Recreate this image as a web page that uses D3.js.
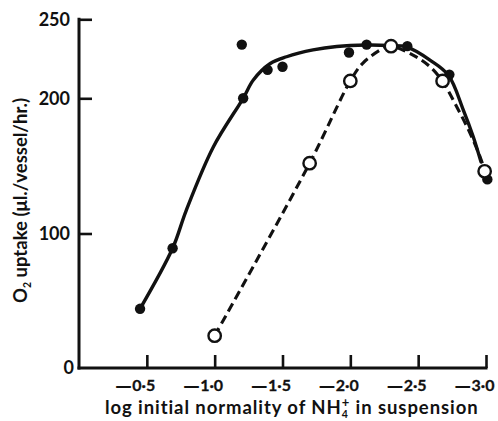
<!DOCTYPE html>
<html>
<head>
<meta charset="utf-8">
<script src="https://cdn.jsdelivr.net/npm/d3@7"></script>
<style>
  html, body { margin: 0; padding: 0; background: #fff; }
  svg { display: block; }
  text { font-family: Lato, "Open Sans", sans-serif; font-weight: 700; fill: #111; }
</style>
</head>
<body>
<svg id="chart" width="498" height="421"></svg>
<script>
// ---- data ----
const xTicks = [-0.5, -1.0, -1.5, -2.0, -2.5, -3.0];
const xTickLabels = ["\u20140\u00b75", "\u20141\u00b70", "\u20141\u00b75", "\u20142\u00b70", "\u20142\u00b75", "\u20143\u00b70"];
const yTicks = [0, 100, 200, 250];
const yTickLabels = ["0", "100", "200", "250"];

// filled circles (solid curve) observations
const filledX = [-0.45, -0.69, -1.21, -1.20, -1.39, -1.50, -1.99, -2.12, -2.42, -2.73, -3.01];
const filledY = [44, 89, 200, 234, 218, 220, 229, 234, 233, 215, 140];

// open circles (dashed curve) observations
const openX = [-1.00, -1.70, -2.00, -2.30, -2.68, -2.99];
const openY = [24, 152, 211, 233, 211, 146];

// hand-drawn fitted curves
const solidCurveX = [-0.45, -0.69, -0.79, -0.99, -1.21, -1.285, -1.41, -1.53, -1.725, -1.90, -2.12, -2.29, -2.415, -2.587, -2.722, -2.833, -2.906, -2.963];
const solidCurveY = [44, 89, 117, 164, 200, 211.6, 222, 226.3, 230.6, 232.8, 233.7, 233.4, 232.5, 224.2, 214.7, 191.3, 171.6, 153];

const dashCurveX = [-1.00, -1.70, -2.00, -2.093, -2.241, -2.30, -2.462, -2.587, -2.677, -2.784, -2.882, -2.956, -2.993];
const dashCurveY = [24, 152, 211, 222.3, 231.6, 233, 227.4, 220, 211, 193.8, 174.3, 156.8, 146];

// ---- drawing ----
const svg = d3.select("#chart");
const x = d3.scaleLinear().domain([0, -3]).range([79, 486]);
// the original axis is hand-drawn: its 250 mark sits higher than a linear scale would put it
const y = d3.scaleLinear().domain([0, 100, 200, 250]).range([368, 233.5, 98.3, 19.3]);

// x axis
const gx = svg.append("g").attr("transform", `translate(0,${y(0)})`)
  .call(d3.axisBottom(x).tickValues(xTicks).tickSizeInner(-13).tickSizeOuter(0)
    .tickPadding(12).tickFormat((d, i) => xTickLabels[i]));
gx.select(".domain").attr("stroke", "#111").attr("stroke-width", 3)
  .attr("d", `M${x(0) - 1.5},0H${x(-3) + 1.5}`);
gx.selectAll(".tick line").attr("stroke", "#111").attr("stroke-width", 2.6);
gx.selectAll(".tick text").each(function(d, i) {
  const label = xTickLabels[i];
  const t = d3.select(this).attr("y", 22.8).attr("dy", null).attr("x", -32)
    .attr("text-anchor", "start").attr("font-family", "Lato, sans-serif")
    .attr("font-size", 16).attr("font-weight", 700).attr("fill", "#111").text(null);
  t.append("tspan").attr("font-family", "'DejaVu Sans', sans-serif").attr("font-size", 16.5)
    .text(label.slice(0, 1));
  t.append("tspan").attr("stroke", "#111").attr("stroke-width", 0.3).attr("dx", 0.5)
    .text(label.slice(1));
});

// y axis
const gy = svg.append("g").attr("transform", `translate(${x(0)},0)`)
  .call(d3.axisLeft(y).tickValues(yTicks).tickSizeInner(-13).tickSizeOuter(0)
    .tickPadding(9).tickFormat((d, i) => yTickLabels[i]));
gy.select(".domain").attr("stroke", "#111").attr("stroke-width", 3)
  .attr("d", `M0,${y(250) - 1.5}V${y(0) + 1.5}`);
gy.selectAll(".tick line").attr("stroke", "#111").attr("stroke-width", 2.6);
gy.selectAll(".tick").filter(d => d === 0).select("line").remove();
gy.selectAll(".tick").filter(d => d === 0).select("text").attr("x", -5);
gy.selectAll(".tick text").attr("font-size", 18).attr("font-family", "Lato, sans-serif")
  .attr("font-weight", 700).attr("fill", "#111");

// curves
const line = d3.line().x(d => x(d[0])).y(d => y(d[1])).curve(d3.curveCatmullRom.alpha(0.5));
svg.append("path").datum(d3.zip(solidCurveX, solidCurveY))
  .attr("d", line).attr("fill", "none").attr("stroke", "#111").attr("stroke-width", 3.4)
  .attr("stroke-linecap", "round");
svg.append("path").datum(d3.zip(dashCurveX, dashCurveY))
  .attr("d", line).attr("fill", "none").attr("stroke", "#111").attr("stroke-width", 3.1)
  .attr("stroke-dasharray", "9,5");

// markers
svg.append("g").selectAll("circle").data(d3.zip(filledX, filledY)).join("circle")
  .attr("cx", d => x(d[0])).attr("cy", d => y(d[1])).attr("r", 5.2).attr("fill", "#111");
svg.append("g").selectAll("circle").data(d3.zip(openX, openY)).join("circle")
  .attr("cx", d => x(d[0])).attr("cy", d => y(d[1])).attr("r", 6.2)
  .attr("fill", "#fff").attr("stroke", "#111").attr("stroke-width", 2.4);

// x axis title
const xt = svg.append("text").attr("x", 105).attr("y", 414).attr("font-size", 18.5)
  .attr("letter-spacing", 0.92);
xt.append("tspan").text("log initial normality of NH");
xt.append("tspan").attr("font-size", 10.5).attr("dy", 4).text("4");
xt.append("tspan").attr("font-size", 13).attr("dx", -7).attr("dy", -11.5).text("+");
xt.append("tspan").attr("dy", 7.5).text(" in suspension");

// y axis title
const yt = svg.append("text").attr("transform", "translate(27,303) rotate(-90)")
  .attr("font-size", 18.5);
yt.append("tspan").text("O");
yt.append("tspan").attr("font-size", 10.5).attr("dy", 4).text("2");
yt.append("tspan").attr("dy", -4).text(" uptake (\u03bcl./vessel/hr.)");
</script>
</body>
</html>
